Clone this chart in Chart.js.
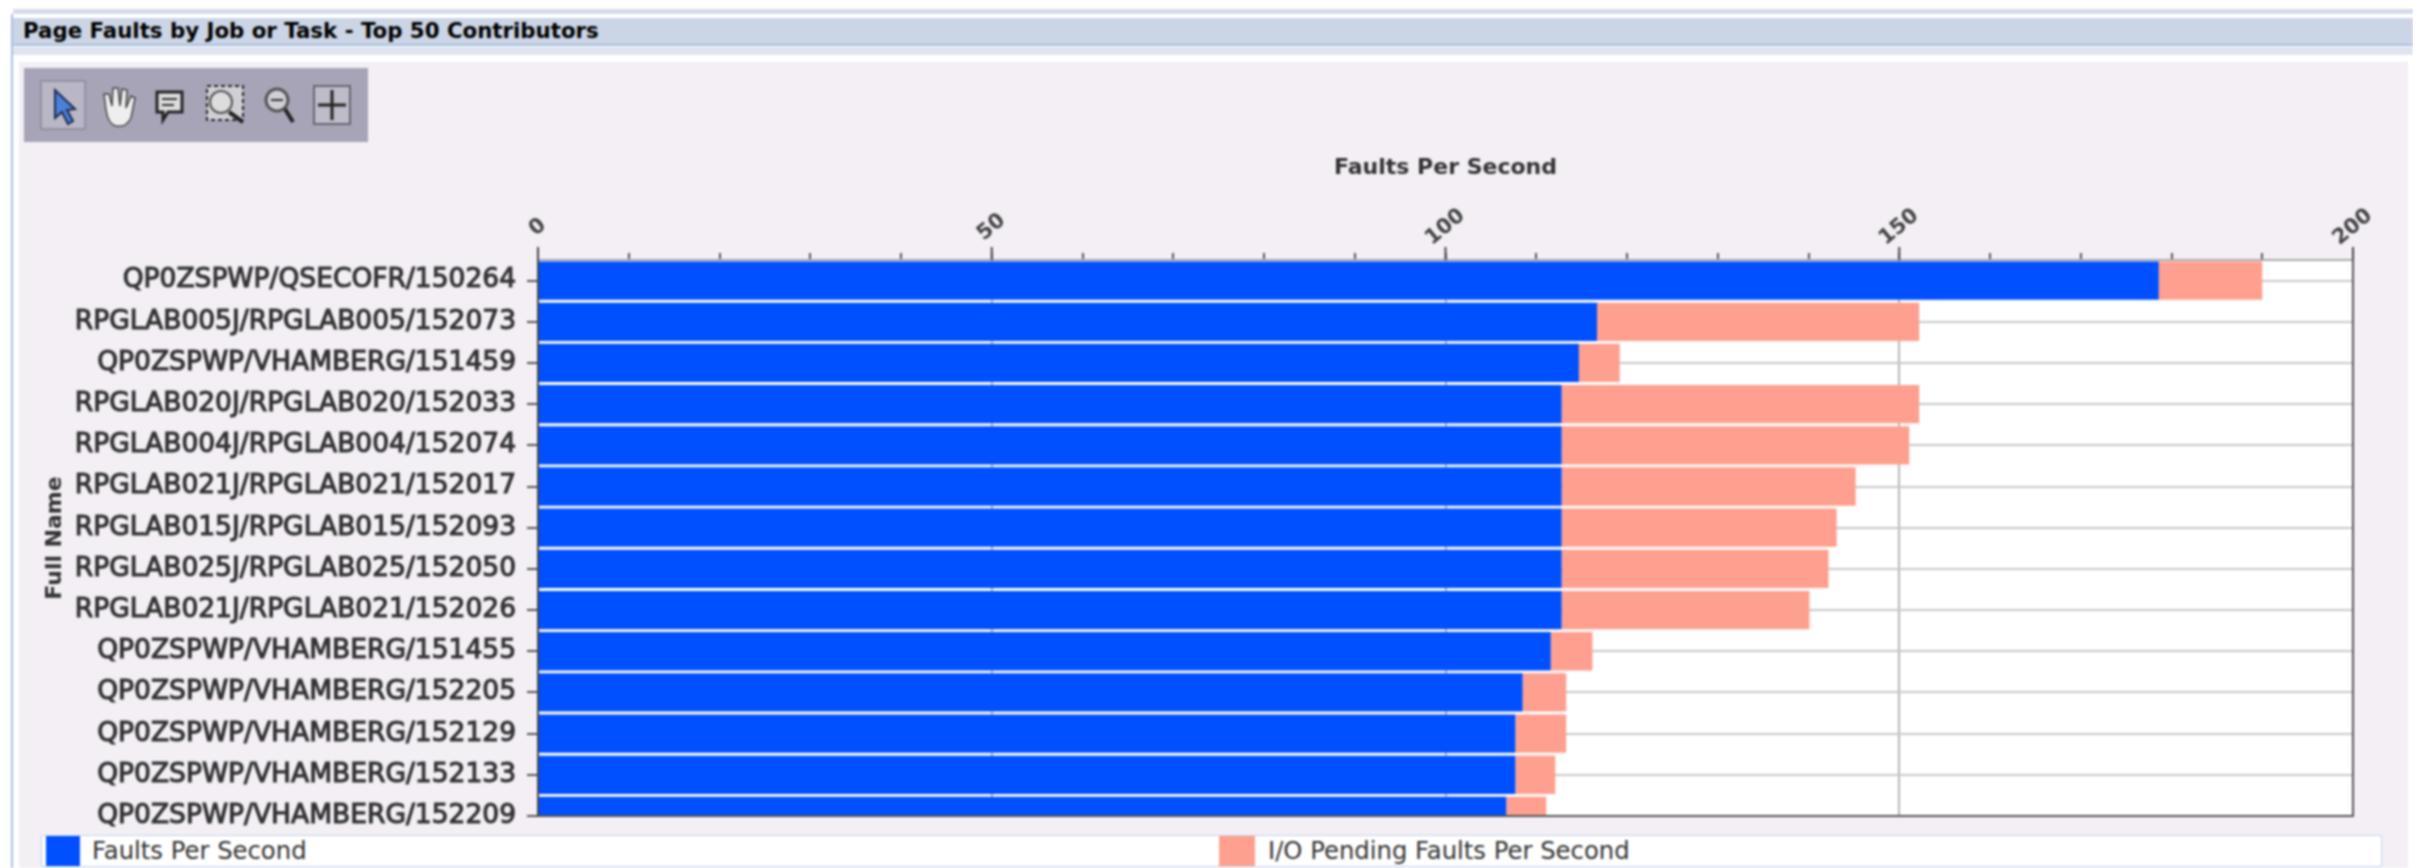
<!DOCTYPE html>
<html>
<head>
<meta charset="utf-8">
<title>Page Faults by Job or Task</title>
<script src="https://cdn.jsdelivr.net/npm/chart.js@4"></script>
<style>
  html, body { margin: 0; padding: 0; background: #fff; width: 2413px; height: 868px; overflow: hidden; font-family: "DejaVu Sans", sans-serif; }
  #pagina { position: absolute; left: 0; top: 0; width: 2413px; height: 868px; filter: blur(0.8px); }
  .abs { position: absolute; }
  #marco { left: 11px; top: 14px; width: 2px; height: 854px; background: #a9bfe0; }
  #franja1 { left: 13px; top: 9px; width: 2400px; height: 5px; background: #d5dcea; }
  #cabecera { left: 13px; top: 18px; width: 2400px; height: 26px; background: #ccd5e6; border-bottom: 2px solid #a9bfe0; }
  #cabecera span { position: absolute; left: 10px; top: 0; font-size: 21.3px; font-weight: bold; color: #000; white-space: nowrap; }
  #franja2 { left: 13px; top: 47px; width: 2400px; height: 8px; background: #dfe4ef; }
  #panel { left: 19px; top: 62px; width: 2389px; height: 806px; background: #f3eff5; }
  #herramientas { left: 24px; top: 68px; width: 344px; height: 74px; background: #a8a4b8; }
  #herramientas svg { position: absolute; left: 0; top: 0; }
  #lienzo { left: 19px; top: 62px; width: 2389px; height: 768px; }
  #leyenda { left: 41px; top: 835px; width: 2339px; height: 30px; background: #fff; border: 1px solid #c5d6e8; }
  #leyenda i { position: absolute; top: 0; height: 30px; }
  #leyenda span { position: absolute; top: 0; font-size: 24.3px; color: #333; white-space: nowrap; }
</style>
</head>
<body>
<div id="pagina">
<div class="abs" id="franja1"></div>
<div class="abs" id="marco"></div>
<div class="abs" id="cabecera"><span>Page Faults by Job or Task - Top 50 Contributors</span></div>
<div class="abs" id="franja2"></div>
<div class="abs" id="panel"></div>
<div class="abs" id="herramientas">
  <svg width="344" height="74" viewBox="0 0 344 74">
    <rect x="17" y="13" width="44" height="48" fill="#b9b7c6" stroke="#77758a"/>
    <path d="M31 22 L31 50 L38 44 L44 56 L49 53 L43 42 L51 41 Z" fill="#4d7fd8" stroke="#1c2c50" stroke-width="2"/>
    <path d="M82 42 L80 26 L85 26 L88 38 L89 20 L94 20 L96 38 L98 21 L103 22 L102 40 L107 28 L111 30 L107 50 Q102 60 92 58 Q84 56 82 42 Z" fill="#eee" stroke="#444" stroke-width="1.5"/>
    <path d="M133 24 H158 V44 H144 L139 52 V44 H133 Z" fill="#ddd" stroke="#222" stroke-width="3"/>
    <path d="M138 31 H153 M138 37 H150" stroke="#333" stroke-width="2"/>
    <rect x="183" y="18" width="36" height="34" fill="#cfcfd6" stroke="#222" stroke-width="2" stroke-dasharray="4 3"/>
    <circle cx="197" cy="34" r="11" fill="#ddd" stroke="#555" stroke-width="2"/>
    <path d="M205 44 L219 54" stroke="#222" stroke-width="4"/>
    <circle cx="253" cy="32" r="11" fill="#cfcfd6" stroke="#555" stroke-width="3"/>
    <path d="M247 32 H259" stroke="#333" stroke-width="2"/>
    <path d="M261 41 L269 54" stroke="#222" stroke-width="4"/>
    <rect x="290" y="18" width="36" height="38" fill="#bdbcc8" stroke="#66646f" stroke-width="2"/>
    <path d="M308 22 V52 M294 37 H322" stroke="#222" stroke-width="3"/>
  </svg>
</div>
<div class="abs" id="lienzo"><canvas id="grafica"></canvas></div>
<div class="abs" id="leyenda">
  <i style="left:4px;width:34px" id="cuadro1"></i><span style="left:50px" id="texto1"></span>
  <i style="left:1177px;width:36px" id="cuadro2"></i><span style="left:1226px" id="texto2"></span>
</div>
</div>

<script>
// Datos
const trabajos = [
  'QP0ZSPWP/QSECOFR/150264',
  'RPGLAB005J/RPGLAB005/152073',
  'QP0ZSPWP/VHAMBERG/151459',
  'RPGLAB020J/RPGLAB020/152033',
  'RPGLAB004J/RPGLAB004/152074',
  'RPGLAB021J/RPGLAB021/152017',
  'RPGLAB015J/RPGLAB015/152093',
  'RPGLAB025J/RPGLAB025/152050',
  'RPGLAB021J/RPGLAB021/152026',
  'QP0ZSPWP/VHAMBERG/151455',
  'QP0ZSPWP/VHAMBERG/152205',
  'QP0ZSPWP/VHAMBERG/152129',
  'QP0ZSPWP/VHAMBERG/152133',
  'QP0ZSPWP/VHAMBERG/152209'
];
const fallos = [178.6, 116.7, 114.7, 112.8, 112.8, 112.8, 112.8, 112.8, 112.8, 111.6, 108.5, 107.7, 107.7, 106.7];
const fallosPendientes = [11.4, 35.5, 4.5, 39.4, 38.3, 32.4, 30.3, 29.4, 27.3, 4.6, 4.8, 5.6, 4.4, 4.4];
const marcasMayores = [0, 50, 100, 150, 200];

const AZUL = '#0050ff';
const SALMON = '#ff9f8f';
const nombreFallos = 'Faults Per Second';
const nombrePendientes = 'I/O Pending Faults Per Second';

// Leyenda fuera del canvas porque ocupa todo el ancho de la ventana
document.getElementById('cuadro1').style.background = AZUL;
document.getElementById('cuadro2').style.background = SALMON;
document.getElementById('texto1').textContent = nombreFallos;
document.getElementById('texto2').textContent = nombrePendientes;

const aPuntos = (valores) => valores.map((v, i) => ({ x: v, y: i }));

// Sin margen extra por las etiquetas: el area del grafico queda donde la pide layout.padding
function sinRelleno(scale) {
  scale.paddingTop = 0;
  scale.paddingBottom = 0;
  scale.paddingLeft = 0;
  scale.paddingRight = 0;
}

const decoracion = {
  id: 'decoracion',
  beforeDraw(chart) {
    const { ctx, chartArea: a, scales } = chart;
    ctx.fillStyle = '#fff';
    ctx.fillRect(a.left, a.top, a.right - a.left, a.bottom - a.top);
    // Etiquetas giradas centradas sobre su marca, como en el original
    scales.x.getLabelItems().forEach(item => {
      item.options.textAlign = 'center';
      item.options.translation = [item.options.translation[0] + 16, item.options.translation[1] - 4];
    });
  },
  afterDatasetsDraw(chart) {
    const { ctx, chartArea: a, scales } = chart;
    ctx.save();
    // marcas mayores del eje superior
    ctx.strokeStyle = '#444';
    ctx.lineWidth = 2;
    marcasMayores.forEach(v => {
      const x = scales.x.getPixelForValue(v);
      ctx.beginPath();
      ctx.moveTo(x, a.top);
      ctx.lineTo(x, a.top - 13);
      ctx.stroke();
    });
    // marco derecho e inferior
    ctx.strokeStyle = '#555';
    ctx.beginPath();
    ctx.moveTo(a.right, a.top);
    ctx.lineTo(a.right, a.bottom);
    ctx.lineTo(a.left, a.bottom);
    ctx.stroke();
    ctx.restore();
  }
};

new Chart(document.getElementById('grafica'), {
  type: 'bar',
  plugins: [decoracion],
  data: {
    datasets: [
      { label: nombreFallos, data: aPuntos(fallos), backgroundColor: AZUL },
      { label: nombrePendientes, data: aPuntos(fallosPendientes), backgroundColor: SALMON }
    ]
  },
  options: {
    indexAxis: 'y',
    responsive: true,
    maintainAspectRatio: false,
    animation: false,
    layout: { padding: { top: 90, right: 55, bottom: 14, left: 23 } },
    datasets: { bar: { barPercentage: 1, categoryPercentage: 0.93 } },
    plugins: { legend: { display: false }, tooltip: { enabled: false }, title: { display: false } },
    scales: {
      x: {
        type: 'linear',
        position: 'top',
        stacked: true,
        min: 0,
        max: 200,
        title: { display: true, text: 'Faults Per Second', color: '#333', font: { family: 'DejaVu Sans', size: 22, weight: 'bold' }, padding: { top: 3, bottom: 4 } },
        ticks: {
          stepSize: 10,
          autoSkip: false,
          minRotation: 40,
          maxRotation: 40,
          padding: 12,
          color: '#444',
          font: { family: 'DejaVu Sans', size: 21, weight: 'bold' },
          callback: (v) => (marcasMayores.includes(v) ? String(v) : '')
        },
        grid: {
          color: (c) => (marcasMayores.includes(c.tick.value) ? '#b5b5b5' : 'rgba(0,0,0,0)'),
          lineWidth: 2,
          tickColor: '#555',
          tickLength: 7
        },
        border: { color: '#aaa', width: 2 },
        afterFit(scale) { scale.height = 108; sinRelleno(scale); }
      },
      y: {
        type: 'linear',
        reverse: true,
        stacked: true,
        bounds: 'data',
        offset: false,
        // la lista sigue hacia abajo: el ultimo trabajo queda cortado por el borde
        min: -0.5,
        max: 13,
        afterBuildTicks(scale) { scale.ticks = trabajos.map((t, i) => ({ value: i })); },
        title: { display: true, text: 'Full Name', color: '#333', font: { family: 'DejaVu Sans', size: 22, weight: 'bold' }, padding: { top: 0, bottom: 0 } },
        ticks: {
          autoSkip: false,
          padding: 11,
          color: '#333',
          textStrokeColor: '#333',
          textStrokeWidth: 1.1,
          font: { family: 'DejaVu Sans', size: 26.5 },
          callback: (v) => trabajos[v]
        },
        grid: { offset: false, color: '#c8c8c8', lineWidth: 2, tickColor: '#555', tickLength: 11 },
        border: { color: '#444', width: 2 },
        afterFit(scale) { scale.width = 496; sinRelleno(scale); }
      }
    }
  }
});
</script>
</body>
</html>
